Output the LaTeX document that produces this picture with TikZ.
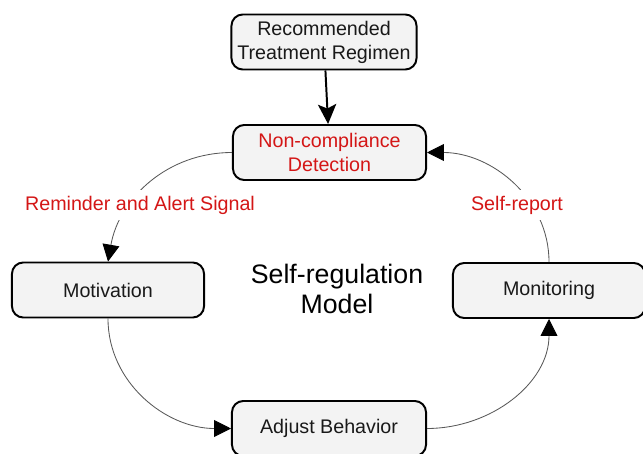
\documentclass[tikz,border=0pt]{standalone}
\usepackage{fontspec}
\setmainfont{Liberation Sans}
\usetikzlibrary{arrows.meta}
\definecolor{alertred}{RGB}{212,22,22}
\definecolor{boxgray}{RGB}{243,243,243}
\newcommand{\boxfont}{\fontsize{14}{17}\selectfont}

\begin{document}
\begin{tikzpicture}[x=0.025cm,y=-0.025cm,
	stage/.style={draw=black, line width=1.4pt, fill=boxgray, rounded corners=8pt,
		minimum height=1.375cm, align=center, text=black!90, font=\boxfont, inner sep=2pt},
	signal/.style={text=alertred, font=\boxfont, fill=white, inner sep=4pt},
	curve/.style={draw=black!65, line width=0.6pt},
	link/.style={curve, -{Triangle[length=12pt,width=12pt,color=black]}}]
	\clip (0,0) rectangle (643,453);
	\fill[white] (0,0) rectangle (643,453);

	\node[stage, minimum width=4.625cm] (regimen) at (324,42) {Recommended\\Treatment Regimen};
	\node[stage, minimum width=4.825cm, text=alertred] (detect) at (329.5,152.5) {Non-compliance\\Detection};
	\node[stage, minimum width=4.8cm] (motiv) at (108,290) {Motivation};
	\node[stage, minimum width=4.8cm] (monit) at (549,290.5) {Monitoring};
	\node[stage, minimum width=4.85cm] (adjust) at (329,428.5) {Adjust Behavior};
	\node[font=\fontsize{19}{21.3}\selectfont, align=center] (model) at (337,289) {Self-regulation\\Model};

	\draw[line width=1.4pt, -{Stealth[length=14pt,width=13pt,inset=3pt]}] (regimen) -- (detect);
	\draw[link] (detect.west) to[out=180,in=80] (motiv.north);
	\draw[link] (motiv.south) to[out=-90,in=180] (adjust.west);
	\draw[link] (adjust.east) to[out=0,in=-90] (monit.south);
	\draw[link] (monit.north) to[out=90,in=0] (detect.east);

	% labels sit on top of the curves
	\node[signal] (remind) at (140,205) {Reminder and Alert Signal};
	\node[signal] (report) at (517,205) {Self-report};
\end{tikzpicture}
\end{document}
